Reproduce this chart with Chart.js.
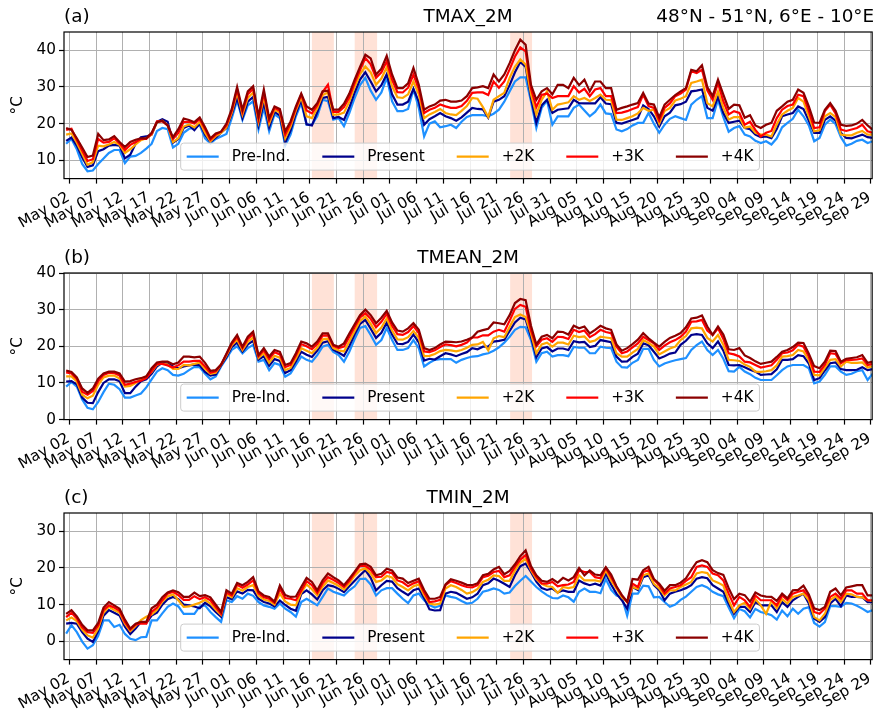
<!DOCTYPE html>
<html><head><meta charset="utf-8">
<script src="https://cdn.jsdelivr.net/npm/chart.js@4.4.1/dist/chart.umd.min.js"></script>
<style>
html,body{margin:0;padding:0;background:#fff;width:885px;height:711px;overflow:hidden;position:relative;}
canvas{position:absolute;left:0;}
</style></head><body>
<canvas id="ca" width="885" height="240" style="top:0px;width:885px;height:240px"></canvas>
<canvas id="cb" width="885" height="240" style="top:241px;width:885px;height:240px"></canvas>
<canvas id="cc" width="885" height="230" style="top:481px;width:885px;height:230px"></canvas>
<script>
// ---------------- DATA ----------------
const SERIES = ['Pre-Ind.', 'Present', '+2K', '+3K', '+4K'];
const TICK_DAYS = [1,6,11,16,21,26,31,36,41,46,51,56,61,66,71,76,81,86,91,96,101,106,111,116,121,126,131,136,141,146,151];
const TICK_LABELS = ['May 02','May 07','May 12','May 17','May 22','May 27','Jun 01','Jun 06','Jun 11','Jun 16','Jun 21','Jun 26','Jul 01','Jul 06','Jul 11','Jul 16','Jul 21','Jul 26','Jul 31','Aug 05','Aug 10','Aug 15','Aug 20','Aug 25','Aug 30','Sep 04','Sep 09','Sep 14','Sep 19','Sep 24','Sep 29'];
const HEAT_SPANS = [[46.4, 50.5], [54.4, 58.6], [83.5, 87.6]];

// (a) TMAX_2M
const TMAX_PRE = [14.5,15.8,13.0,9.0,7.0,7.2,9.0,10.5,12.0,12.8,12.8,9.2,11.0,11.2,12.0,13.2,14.5,18.0,18.8,18.5,13.5,14.5,17.5,18.6,18.8,19.6,16.0,14.6,15.8,16.5,17.2,21.5,26.3,21.0,25.0,26.1,18.4,24.3,17.9,22.5,21.5,14.0,17.0,22.0,25.6,19.7,19.7,22.0,26.5,26.1,21.1,21.5,19.3,22.9,27.0,30.5,32.5,29.0,26.5,28.5,32.5,26.1,23.4,23.4,24.0,29.3,24.3,16.5,20.0,20.6,19.0,19.3,19.7,18.8,20.5,21.8,22.3,22.3,22.3,22.0,22.7,23.8,26.0,28.8,31.5,32.6,32.6,26.0,18.8,24.3,26.3,19.7,22.0,22.0,22.0,24.3,25.2,23.6,22.0,23.2,25.2,22.8,22.6,18.4,17.9,18.5,19.5,20.2,20.2,22.9,20.0,17.5,19.7,21.3,22.0,21.5,21.0,25.2,26.5,27.5,21.5,21.5,26.5,21.8,17.8,18.8,19.3,17.0,16.5,15.3,14.7,15.2,14.3,16.0,19.0,20.2,21.3,23.8,22.0,19.5,15.2,16.1,19.7,21.1,19.9,16.3,14.0,14.5,15.3,15.6,14.7,15.2];
const TMAX_PRESENT = [15.3,16.2,14.0,10.8,8.2,8.6,12.5,13.0,14.0,14.2,14.0,10.5,11.5,14.5,16.3,16.5,17.0,20.5,21.2,20.5,14.8,15.8,18.8,19.5,18.2,20.0,17.0,15.0,16.2,17.5,18.8,22.5,27.0,21.5,26.0,27.3,19.5,25.8,19.0,23.2,22.2,14.8,18.1,22.8,26.4,19.8,19.5,23.1,27.0,27.3,21.5,21.8,21.0,24.4,28.5,32.0,34.0,31.5,28.8,30.5,33.5,28.0,25.2,25.2,26.0,29.5,26.0,19.7,21.2,22.0,22.9,22.0,21.5,20.8,21.7,23.0,24.3,24.0,23.9,21.6,26.0,26.5,27.5,30.5,34.0,36.8,35.5,27.0,20.2,25.0,26.5,22.9,23.8,24.0,24.2,26.5,25.6,25.5,25.5,25.5,27.2,25.5,25.3,20.2,20.0,20.5,21.0,21.5,25.0,24.0,22.0,19.2,22.0,23.0,25.0,25.3,26.0,28.8,29.0,29.3,24.3,23.5,27.3,22.9,20.2,20.5,20.8,18.8,18.5,17.0,16.3,16.5,16.0,18.5,22.0,22.5,22.9,24.7,24.0,20.8,17.5,17.5,21.0,22.0,20.8,17.5,16.1,16.0,16.5,17.0,16.3,16.1];
const TMAX_2K = [17.0,17.3,14.8,11.8,8.8,9.5,14.0,13.8,14.3,15.0,14.2,12.0,13.0,14.3,15.5,16.0,17.0,20.4,20.8,19.5,15.0,16.0,19.2,19.8,19.0,20.5,17.5,15.2,16.6,17.5,19.0,23.0,28.5,22.5,27.0,28.5,20.5,27.3,20.0,23.8,23.0,16.0,19.2,23.6,27.2,22.0,21.5,24.2,27.8,28.5,22.4,22.5,23.0,26.0,30.0,33.5,35.6,34.0,30.6,32.3,35.4,30.2,27.2,27.0,28.0,31.5,28.0,21.5,22.5,23.2,24.0,22.9,22.5,22.3,23.5,24.8,27.0,26.8,24.5,21.8,26.5,27.5,28.4,32.5,35.5,37.5,36.1,28.0,22.5,26.5,28.8,23.8,25.2,25.5,25.8,27.5,26.5,27.0,26.2,27.0,27.9,26.5,26.4,21.1,21.0,21.5,22.0,22.8,24.3,23.5,23.8,20.0,23.4,24.3,26.3,26.8,27.5,31.1,31.5,32.0,25.6,24.7,28.8,24.3,21.1,21.8,21.8,18.9,19.2,17.5,17.0,17.0,16.5,19.8,22.5,23.5,24.3,27.0,26.0,22.0,17.9,18.2,22.0,22.9,21.8,17.0,16.8,16.8,17.5,18.0,17.0,17.0];
const TMAX_3K = [18.3,18.6,15.5,12.7,9.8,10.3,15.8,14.8,15.0,16.0,14.6,12.8,14.2,15.0,15.8,15.8,17.2,20.6,20.6,19.5,15.8,17.5,20.5,20.5,20.0,21.2,18.5,15.6,17.0,17.8,19.5,23.5,29.3,23.2,28.0,29.5,21.3,28.4,20.9,24.3,23.5,17.0,20.0,24.2,27.9,23.6,22.8,25.0,28.6,30.6,23.2,23.2,24.5,27.2,31.1,34.6,37.9,36.2,32.5,34.0,37.0,32.0,28.6,28.5,29.8,33.4,29.5,22.9,23.8,24.3,25.2,24.7,24.3,24.3,24.8,26.2,28.4,28.5,28.5,27.8,31.5,29.8,31.5,34.8,38.3,40.8,39.7,29.5,24.5,27.8,28.2,27.0,27.5,27.5,27.5,30.2,28.5,29.5,27.5,29.3,29.7,27.5,27.5,22.9,23.0,23.4,24.0,24.5,27.9,24.8,24.3,20.8,24.3,25.5,27.5,28.2,29.3,34.3,33.8,34.7,29.1,26.5,31.1,26.1,22.5,23.4,22.9,19.7,20.5,18.3,16.5,17.5,18.0,21.5,23.8,24.8,25.2,27.9,27.5,23.4,18.8,19.0,23.4,25.2,22.8,18.4,18.0,18.4,18.8,19.7,17.9,17.5];
const TMAX_4K = [18.8,18.3,16.0,13.5,10.9,11.3,17.2,15.5,15.7,16.6,15.0,13.6,15.0,15.6,16.0,16.0,17.5,20.4,20.8,19.5,16.3,18.5,21.4,21.0,20.4,21.7,19.0,16.0,17.3,17.8,20.0,24.0,30.0,23.8,28.8,30.2,22.0,29.3,21.5,24.7,24.0,17.9,20.6,24.7,28.2,24.7,23.8,25.6,28.8,29.0,23.8,23.8,25.4,28.2,32.0,35.5,38.8,37.8,33.4,35.0,38.5,33.4,29.7,29.7,31.0,35.2,30.6,23.8,24.7,25.2,26.3,26.5,26.0,26.0,26.3,27.5,29.7,29.9,30.2,29.7,33.4,31.5,33.4,36.5,40.0,42.9,41.5,30.6,26.5,28.8,29.7,28.0,30.6,30.6,29.7,32.5,30.5,32.0,28.8,31.5,31.5,29.7,29.7,23.8,24.3,24.7,25.2,25.6,28.4,25.5,25.2,21.7,25.2,26.5,27.8,28.8,29.7,34.7,34.3,35.9,30.0,27.5,32.0,27.9,24.0,25.2,25.0,21.6,22.3,19.5,18.8,19.7,20.2,23.5,24.7,26.0,26.5,29.3,28.4,24.7,20.3,20.2,23.8,25.6,23.5,19.7,19.4,19.5,20.0,21.0,19.5,18.3];

// (b) TMEAN_2M
const TMEAN_PRE = [9.0,10.3,9.0,5.5,3.2,2.8,4.8,7.5,9.8,9.5,8.3,6.0,6.0,6.6,7.1,8.8,11.0,13.1,14.0,13.5,12.2,12.0,12.5,13.5,14.4,14.3,12.5,11.0,11.8,14.5,16.7,19.0,20.0,18.1,19.5,20.4,15.8,16.3,13.5,15.4,14.9,11.7,12.6,14.9,17.2,16.3,15.8,17.6,19.9,20.4,18.5,17.6,15.8,18.5,22.0,25.0,25.5,23.1,20.4,21.7,25.0,21.7,19.0,19.0,19.5,21.7,19.5,14.5,15.5,16.3,16.5,16.5,16.5,15.5,16.3,16.8,17.2,17.3,17.8,18.1,18.8,19.7,21.0,22.6,24.5,25.3,25.2,21.7,15.8,18.1,18.5,17.2,17.6,17.6,17.3,19.8,19.6,19.6,18.1,18.1,19.9,19.6,19.5,15.8,14.3,14.2,15.5,16.3,19.3,19.3,16.3,14.5,15.3,15.8,16.2,16.5,16.8,19.0,20.3,21.3,19.0,17.6,19.0,16.6,13.2,13.1,14.4,13.1,12.4,11.4,10.8,10.8,10.8,12.1,13.5,14.5,14.9,14.9,14.9,14.0,9.9,10.4,12.2,14.5,14.5,13.1,12.2,12.5,13.2,13.5,10.8,12.6];
const TMEAN_PRESENT = [10.4,10.5,9.6,6.0,4.6,4.5,7.5,10.0,11.0,11.0,10.5,7.2,7.2,9.0,10.5,11.0,12.5,14.5,15.5,15.3,14.5,14.0,14.5,14.8,15.0,14.8,13.0,12.0,12.3,14.8,17.0,19.8,21.0,18.6,20.5,21.5,16.4,17.3,14.7,16.5,16.0,12.7,13.5,15.9,18.5,17.7,17.1,18.8,21.0,21.4,19.1,18.3,17.4,20.1,23.3,26.1,27.2,24.8,22.3,23.7,26.5,23.2,20.7,20.6,21.2,23.2,21.1,16.1,16.6,16.4,17.3,18.1,17.8,17.3,17.9,18.4,19.5,19.2,19.9,19.9,21.3,21.5,21.8,24.2,26.5,27.8,27.3,22.6,17.0,19.4,19.8,18.6,19.4,19.4,19.0,21.4,21.1,21.2,19.8,20.1,21.7,21.4,21.1,17.2,15.8,15.9,17.1,18.0,20.8,20.3,18.5,16.7,17.3,18.0,18.3,20.4,21.5,23.1,23.3,23.1,20.8,19.5,21.3,18.8,14.9,14.8,14.9,14.3,13.6,13.1,12.2,12.3,12.4,13.7,16.3,16.3,16.5,17.6,17.3,15.3,10.8,11.3,13.4,15.4,15.6,13.8,13.5,13.5,13.6,14.3,13.5,13.8];
const TMEAN_2K = [11.8,11.8,10.4,6.8,5.8,6.5,9.5,11.5,12.0,12.0,11.2,9.0,9.2,10.0,11.0,11.8,13.0,15.0,15.3,15.0,13.8,13.8,14.9,14.8,15.2,15.5,13.8,12.5,12.8,15.0,17.5,20.3,21.8,19.0,21.2,22.4,16.8,18.1,15.5,17.4,16.9,13.5,14.1,16.7,19.5,18.8,18.1,19.6,21.9,22.1,19.5,18.9,18.6,21.3,24.2,26.9,28.1,26.1,23.6,25.1,27.6,24.3,21.9,21.8,22.5,24.2,22.3,17.3,17.4,17.9,18.7,19.0,18.9,18.6,19.0,19.6,20.4,20.5,21.2,18.9,22.2,22.8,22.5,25.3,28.0,28.7,28.0,23.5,18.1,20.5,21.0,19.9,21.0,21.0,20.5,22.9,22.5,22.7,21.2,21.6,22.6,22.4,22.2,18.1,17.2,17.2,18.3,19.3,21.7,20.9,19.9,17.8,18.6,19.4,19.9,21.7,22.8,24.9,25.1,24.9,22.3,21.3,23.1,20.4,16.3,16.2,16.0,15.0,14.4,13.1,13.0,13.2,13.5,14.8,17.2,17.3,17.6,19.0,18.6,16.2,12.2,12.1,14.2,16.3,16.5,14.5,15.8,15.5,15.5,15.6,14.2,14.6];
const TMEAN_3K = [12.9,12.6,11.1,7.6,6.8,7.8,10.5,12.2,12.8,12.7,12.0,9.5,9.8,10.3,10.6,11.3,13.2,15.2,15.2,14.8,14.2,14.8,15.8,15.8,16.0,16.0,14.5,12.8,13.2,15.0,17.8,20.7,22.5,19.5,22.0,23.3,17.3,18.9,16.5,18.4,17.8,14.3,14.9,17.5,20.6,20.0,19.2,20.6,22.9,23.0,20.1,19.5,19.9,22.6,25.3,27.9,29.0,27.5,25.2,26.7,28.9,25.6,23.3,23.1,23.9,25.5,23.6,18.6,18.4,18.9,19.8,20.5,20.3,20.0,20.4,21.0,22.4,22.4,23.0,23.0,24.0,24.5,24.0,27.0,30.2,31.3,30.8,24.3,20.0,21.8,22.2,21.2,22.6,22.5,22.0,24.5,23.9,24.3,22.5,23.3,24.5,23.9,23.6,19.9,18.1,18.6,19.7,20.8,22.6,21.7,20.8,19.0,20.2,21.1,21.7,22.6,24.0,26.7,26.8,27.2,24.3,23.1,24.9,22.0,18.1,17.8,17.2,15.8,15.6,14.9,14.2,14.5,14.8,16.3,18.1,18.3,18.9,20.4,19.9,17.2,13.1,13.0,15.0,18.1,17.9,15.4,16.3,16.3,16.4,16.7,14.9,15.2];
const TMEAN_4K = [13.4,13.0,11.5,8.5,7.3,8.5,11.2,12.6,13.1,13.1,12.6,10.4,10.5,11.0,11.3,11.8,14.0,15.6,15.8,15.8,15.1,15.6,17.2,17.2,17.0,17.2,15.5,13.3,13.5,15.0,18.0,21.0,23.1,19.9,22.6,24.0,17.6,19.5,17.2,19.0,18.5,14.9,15.4,18.1,21.3,20.8,19.9,21.3,23.5,23.5,20.4,19.9,20.8,23.5,26.0,28.5,30.0,28.5,26.3,27.8,29.7,26.5,24.3,24.0,24.9,26.3,24.5,19.5,19.0,19.5,20.5,21.3,21.2,21.1,21.3,21.8,22.4,24.0,24.4,24.8,26.5,26.3,26.0,28.5,31.8,32.9,32.6,25.6,20.5,22.6,23.1,22.2,24.0,23.9,23.2,25.6,24.9,25.4,23.5,24.5,25.6,24.9,24.5,20.5,18.8,19.5,20.6,21.8,23.6,22.2,21.0,19.9,21.2,22.3,22.9,23.6,25.2,27.6,27.8,28.4,25.4,23.1,25.4,23.2,19.2,19.0,19.5,17.5,16.8,15.9,15.2,15.5,15.8,17.1,18.5,19.0,19.8,21.0,20.9,18.0,14.6,14.0,15.8,18.8,18.7,15.8,16.6,16.8,17.0,17.6,15.5,15.8];

// (c) TMIN_2M
const TMIN_PRE = [2.1,4.4,2.5,-0.1,-2.0,-1.1,1.5,5.7,5.7,3.9,4.5,2.0,0.7,0.3,1.1,1.2,5.7,5.7,7.6,9.4,10.3,9.5,7.5,7.5,7.5,9.5,9.8,8.0,6.6,5.3,11.2,10.7,12.3,11.6,13.0,12.4,10.7,9.8,9.4,8.9,10.3,8.9,8.0,6.7,10.7,11.6,10.7,9.8,12.1,14.4,13.5,13.0,12.5,13.9,15.0,17.0,17.1,15.5,12.5,13.9,14.5,14.5,13.0,11.6,10.4,12.5,13.0,11.2,9.9,9.2,9.7,12.5,12.1,11.8,11.0,10.3,10.5,11.6,13.5,13.9,14.4,14.0,13.0,13.3,15.1,16.5,17.8,16.3,14.8,13.6,12.6,11.8,11.7,12.5,12.0,10.8,13.5,14.4,13.5,13.5,13.1,17.0,14.0,12.5,12.0,7.0,13.0,13.0,15.2,15.0,12.0,12.1,10.7,9.4,10.0,11.3,12.2,13.5,14.8,15.3,14.7,13.5,12.8,12.3,9.2,6.3,8.8,8.2,6.5,8.8,8.0,7.6,7.1,5.9,8.4,6.8,8.9,7.5,8.9,9.3,5.0,4.0,5.2,9.6,9.6,9.4,10.5,10.3,9.7,8.9,8.0,8.5];
const TMIN_PRESENT = [4.8,5.0,4.8,2.5,0.7,-0.2,2.8,7.0,8.5,7.8,7.0,4.0,2.0,3.5,5.3,5.0,7.0,7.8,10.0,11.5,12.1,11.5,10.0,9.8,9.5,9.0,10.5,9.5,8.0,6.7,12.0,11.5,13.6,13.0,14.0,13.9,11.6,10.7,10.3,9.5,11.1,9.9,8.9,8.3,12.9,13.9,12.8,11.4,13.9,15.3,15.0,14.3,13.4,15.0,16.5,18.0,19.4,17.3,13.9,15.3,16.5,16.3,14.5,13.5,12.6,13.9,14.4,11.8,8.7,8.4,8.5,13.0,13.5,13.2,12.4,11.6,12.0,13.0,15.3,15.8,17.1,16.5,15.7,14.8,18.0,20.5,21.2,18.9,16.3,14.5,14.0,14.4,13.3,13.9,13.5,13.5,16.6,15.8,15.3,15.7,15.2,18.5,15.5,13.0,11.2,8.9,14.8,14.0,17.5,18.0,15.3,13.9,11.2,13.0,13.5,13.9,14.5,15.3,17.1,17.5,17.2,15.3,14.4,13.5,10.3,7.5,9.4,9.4,8.0,10.7,9.8,9.8,9.8,8.0,10.7,9.4,11.2,12.1,13.0,10.3,6.2,5.3,6.6,10.3,11.6,9.6,12.5,12.1,12.1,12.0,10.7,10.7];
const TMIN_2K = [5.7,6.5,5.5,3.2,1.6,1.0,3.5,7.8,9.4,8.5,7.8,4.8,2.8,4.2,5.8,6.7,7.3,8.6,10.8,12.2,12.8,11.2,9.4,9.5,10.0,10.5,11.3,10.3,8.7,7.2,12.8,12.0,14.5,13.8,14.8,15.3,12.4,11.4,11.0,10.0,13.0,10.9,10.0,9.8,13.3,15.5,14.2,12.5,14.9,16.6,15.9,15.1,14.1,15.8,17.9,19.4,19.9,18.5,16.2,16.6,17.8,17.4,15.6,14.8,13.9,15.0,15.5,12.6,10.3,10.0,10.3,14.4,15.3,14.8,14.0,13.0,13.4,14.3,16.2,16.8,18.0,17.8,16.5,16.5,19.3,21.5,22.5,19.4,17.0,15.7,15.0,14.8,13.2,14.8,14.5,14.8,18.0,16.6,16.6,16.6,16.3,19.4,16.5,14.4,12.0,10.7,14.8,14.3,18.0,18.5,15.7,14.4,12.5,13.9,13.9,14.8,15.5,16.2,18.5,18.9,18.6,16.6,16.0,15.2,11.2,8.0,9.8,10.5,8.8,11.5,9.8,7.5,11.0,9.0,11.5,10.3,12.1,12.5,13.0,11.2,6.6,5.7,7.5,11.2,12.3,10.7,13.0,12.8,12.1,12.0,11.2,11.0];
const TMIN_3K = [6.6,7.8,6.2,3.8,2.5,2.3,4.3,8.5,9.8,9.2,8.3,5.3,3.2,4.5,4.9,4.8,8.0,9.2,11.2,13.0,13.5,12.6,11.3,11.3,12.3,11.5,12.0,11.2,9.3,7.5,13.3,12.5,15.4,14.6,15.5,16.6,13.1,12.0,11.6,10.5,14.3,11.8,11.6,11.2,13.8,16.4,15.3,13.2,15.8,17.5,16.8,15.9,14.8,16.5,18.6,20.6,20.6,19.5,17.5,17.6,18.9,18.6,16.6,16.1,15.0,15.8,16.4,13.3,10.7,10.9,11.3,15.3,16.4,15.9,15.3,14.8,14.7,15.3,17.5,17.9,18.9,19.2,17.5,18.0,20.3,22.3,23.5,19.8,17.5,15.8,15.7,16.2,15.0,15.3,15.5,16.2,19.4,18.9,18.9,17.5,17.2,20.0,17.5,14.8,12.5,10.7,15.7,14.8,18.9,19.4,16.8,15.3,13.0,14.4,14.8,15.3,16.5,17.5,20.3,20.7,20.3,18.5,18.0,16.6,13.0,9.8,12.1,11.2,9.4,12.5,11.2,11.2,11.2,9.8,12.5,11.2,13.0,13.5,13.9,12.1,8.0,7.5,8.9,12.1,13.0,11.6,13.9,13.9,13.0,13.0,11.2,11.2];
const TMIN_4K = [7.5,8.5,6.8,4.5,3.0,3.0,5.0,9.2,10.7,9.8,8.9,5.9,3.5,4.8,5.3,5.3,9.0,10.0,12.0,13.3,13.9,13.4,12.1,12.1,13.3,12.3,12.6,12.0,10.0,8.0,13.9,13.0,15.9,15.3,16.2,17.5,13.6,12.5,12.1,10.8,15.2,12.6,12.1,12.2,14.8,17.3,16.2,13.9,16.6,18.5,17.5,16.6,15.3,17.1,19.0,21.0,21.2,20.3,18.0,18.4,19.8,19.3,17.4,17.1,15.9,16.5,17.1,14.0,11.6,11.6,12.1,15.5,16.9,16.5,16.0,15.4,15.3,15.8,18.0,18.4,19.6,20.3,18.3,19.2,21.0,23.2,24.8,20.5,18.0,16.5,16.2,17.0,16.0,17.3,16.6,17.5,20.0,18.0,19.3,18.2,18.0,20.2,18.2,15.0,12.6,10.8,17.0,16.8,19.4,20.3,17.0,15.7,13.8,15.3,15.3,16.0,17.2,19.5,21.6,22.1,21.6,19.4,18.6,18.1,14.5,11.5,13.0,12.6,10.8,13.3,12.5,12.2,12.1,11.0,13.0,11.7,13.9,14.0,15.2,12.8,9.0,8.5,9.4,13.5,14.4,12.5,14.7,15.0,15.3,15.3,12.5,12.5];

const Y_TICKS_A = [10, 20, 30, 40];
const Y_TICKS_B = [0, 10, 20, 30, 40];
const Y_TICKS_C = [0, 10, 20, 30];

// ---------------- STYLE / DRAWING ----------------
const COLORS = ['#1e90ff', '#00008b', '#ffa500', '#ff0000', '#8b0000'];
const FONT = "'DejaVu Sans', sans-serif";
const DAY_OFFSET = 0.4;
Chart.defaults.font.family = FONT;
Chart.defaults.font.size = 15.3;
Chart.defaults.color = '#000';

const panelPlugin = {
  id: 'panel',
  beforeDraw(chart) {
    const {ctx, chartArea: a, scales: {x}} = chart;
    ctx.save();
    ctx.fillStyle = 'rgba(255,160,122,0.3)';
    for (const [s, e] of HEAT_SPANS) {
      const x0 = x.getPixelForValue(s), x1 = x.getPixelForValue(e);
      ctx.fillRect(x0, a.top, x1 - x0, a.bottom - a.top);
    }
    ctx.restore();
  },
  afterDatasetsDraw(chart) {
    const {ctx, chartArea: a} = chart;
    ctx.save();
    ctx.strokeStyle = '#000';
    ctx.lineWidth = 1.2;
    ctx.strokeRect(a.left, a.top, a.right - a.left, a.bottom - a.top);
    ctx.font = '15.3px ' + FONT;
    const handle = 32, pad = 13, colsp = 32, border = 6, boxH = 27;
    const widths = SERIES.map(s => ctx.measureText(s).width);
    let inner = 0;
    widths.forEach((w, k) => { inner += handle + pad + w + (k < SERIES.length - 1 ? colsp : 0); });
    const boxW = inner + 2 * border;
    const cx = (a.left + a.right) / 2 + 2;
    const bx = cx - boxW / 2, by = a.bottom - 8.5 - boxH;
    const r = 3;
    ctx.beginPath();
    ctx.moveTo(bx + r, by);
    ctx.lineTo(bx + boxW - r, by); ctx.arcTo(bx + boxW, by, bx + boxW, by + r, r);
    ctx.lineTo(bx + boxW, by + boxH - r); ctx.arcTo(bx + boxW, by + boxH, bx + boxW - r, by + boxH, r);
    ctx.lineTo(bx + r, by + boxH); ctx.arcTo(bx, by + boxH, bx, by + boxH - r, r);
    ctx.lineTo(bx, by + r); ctx.arcTo(bx, by, bx + r, by, r);
    ctx.closePath();
    ctx.fillStyle = 'rgba(255,255,255,0.8)';
    ctx.fill();
    ctx.strokeStyle = '#cccccc';
    ctx.lineWidth = 1;
    ctx.stroke();
    let lx = bx + border;
    const ly = by + boxH / 2;
    ctx.textBaseline = 'middle';
    ctx.textAlign = 'left';
    SERIES.forEach((s, k) => {
      ctx.strokeStyle = COLORS[k];
      ctx.lineWidth = 2.2;
      ctx.beginPath(); ctx.moveTo(lx, ly); ctx.lineTo(lx + handle, ly); ctx.stroke();
      ctx.fillStyle = '#000';
      ctx.fillText(s, lx + handle + pad, ly + 0.5);
      lx += handle + pad + widths[k] + colsp;
    });
    ctx.restore();
  },
  afterDraw(chart, args, opts) {
    const {ctx, chartArea: a} = chart;
    ctx.save();
    ctx.fillStyle = '#000';
    ctx.textBaseline = 'middle';
    ctx.font = '18.4px ' + FONT;
    const ty = a.top - 15;
    ctx.textAlign = 'left'; ctx.fillText(opts.letter, a.left, ty);
    ctx.textAlign = 'center'; ctx.fillText(opts.title, (a.left + a.right) / 2, ty);
    if (opts.right) { ctx.textAlign = 'right'; ctx.fillText(opts.right, a.right + 2, ty); }
    ctx.font = '15.3px ' + FONT;
    ctx.translate(18, (a.top + a.bottom) / 2);
    ctx.rotate(-Math.PI / 2);
    ctx.textAlign = 'center';
    ctx.fillText('°C', 0, 0);
    ctx.restore();
  }
};

function buildPanel(id, arrays, ymin, ymax, yticks, letter, title, right) {
  const canvas = document.getElementById(id);
  const H = canvas.height;
  const areaTop = 32, areaH = 146.6;
  const datasets = arrays.map((arr, k) => ({
    label: SERIES[k],
    data: arr.map((v, i) => ({x: i + DAY_OFFSET, y: v})),
    borderColor: COLORS[k],
    backgroundColor: COLORS[k],
    borderWidth: 2.2,
    pointRadius: 0,
    tension: 0,
    fill: false,
    order: arrays.length - 1 - k
  }));
  const gridCommon = {color: '#b0b0b0', lineWidth: 1, tickColor: '#000', tickLength: 5, tickWidth: 1.2, drawTicks: true};
  return new Chart(canvas, {
    type: 'line',
    data: {datasets},
    options: {
      responsive: false,
      animation: false,
      devicePixelRatio: 1,
      layout: {padding: {top: areaTop, left: 0, right: 4, bottom: 0}},
      plugins: {legend: {display: false}, tooltip: {enabled: false}, title: {display: false},
                panel: {letter, title, right}},
      scales: {
        x: {
          type: 'linear', min: 0, max: 151.25,
          afterBuildTicks: s => { s.ticks = TICK_DAYS.map(v => ({value: v})); },
          afterFit: s => { s.height = H - areaTop - areaH; },
          ticks: {autoSkip: false, minRotation: 30, maxRotation: 30, labelOffset: -1, padding: 5,
                  color: '#000', font: {size: 15.3}, callback: (v, i) => TICK_LABELS[i]},
          grid: gridCommon,
          border: {display: false}
        },
        y: {
          type: 'linear', min: ymin, max: ymax,
          afterBuildTicks: s => { s.ticks = yticks.map(v => ({value: v})); },
          afterFit: s => { s.width = 64; },
          ticks: {color: '#000', padding: 3, font: {size: 15.3}},
          grid: gridCommon,
          border: {display: false}
        }
      }
    },
    plugins: [panelPlugin]
  });
}

buildPanel('ca', [TMAX_PRE, TMAX_PRESENT, TMAX_2K, TMAX_3K, TMAX_4K], 5, 45, Y_TICKS_A, '(a)', 'TMAX_2M', '48°N - 51°N, 6°E - 10°E');
buildPanel('cb', [TMEAN_PRE, TMEAN_PRESENT, TMEAN_2K, TMEAN_3K, TMEAN_4K], 0, 40, Y_TICKS_B, '(b)', 'TMEAN_2M', '');
buildPanel('cc', [TMIN_PRE, TMIN_PRESENT, TMIN_2K, TMIN_3K, TMIN_4K], -5, 35, Y_TICKS_C, '(c)', 'TMIN_2M', '');
</script>
</body></html>
